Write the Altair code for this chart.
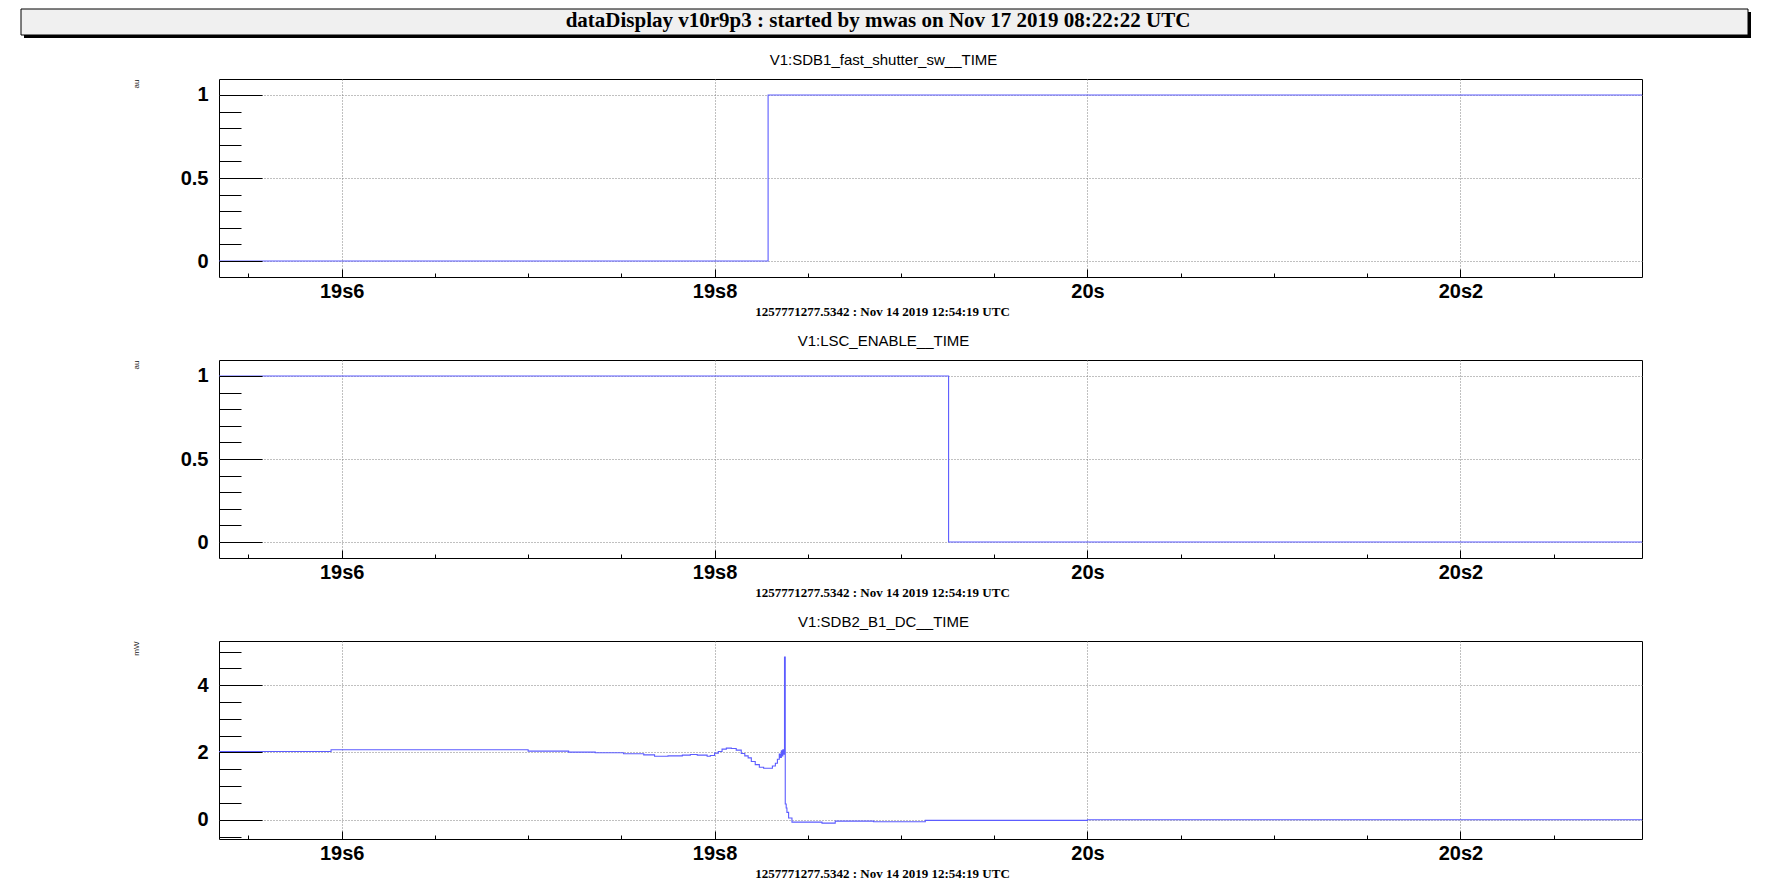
import altair as alt
import pandas as pd

# ---------------- data ----------------
header_text = "dataDisplay v10r9p3 : started by mwas on Nov 17 2019 08:22:22 UTC"
subtitle_text = "1257771277.5342 : Nov 14 2019 12:54:19 UTC"
panel_titles = ["V1:SDB1_fast_shutter_sw__TIME", "V1:LSC_ENABLE__TIME", "V1:SDB2_B1_DC__TIME"]
units = ["au", "au", "mW"]

# panel 1: fast shutter switch
t1 = [19.5342, 19.8287, 20.2974]
v1 = [0, 1, 1]
# panel 2: LSC enable
t2 = [19.5342, 19.9255, 20.2974]
v2 = [1, 0, 0]
# panel 3: SDB2 B1 DC power
t3 = [19.5342, 19.5943, 19.7000, 19.7217, 19.7360, 19.7512, 19.7620, 19.7678,
      19.7750, 19.7827, 19.7870, 19.7907, 19.7960, 19.7977, 19.8000, 19.8020,
      19.8040, 19.8063, 19.8090, 19.8116, 19.8143, 19.8162, 19.8180, 19.8197,
      19.8218, 19.8240, 19.8263, 19.8290, 19.8310, 19.8326, 19.8337, 19.8347,
      19.8352, 19.8358, 19.8362, 19.8366, 19.8371, 19.8375, 19.8379, 19.8384,
      19.8388, 19.8397, 19.8415, 19.8576, 19.8647, 19.8853, 19.9130, 20.0000,
      20.2974]
v3 = [2.03, 2.08, 2.04, 2.01, 1.99, 1.96, 1.93, 1.89,
      1.90, 1.92, 1.94, 1.92, 1.89, 1.91, 1.98, 2.03,
      2.10, 2.13, 2.12, 2.07, 1.97, 1.90, 1.84, 1.73,
      1.64, 1.56, 1.53, 1.53, 1.60, 1.68, 1.80, 1.95,
      1.85, 2.05, 1.90, 2.08, 1.95, 4.84, 0.47, 0.35,
      0.22, 0.05, -0.07, -0.10, -0.04, -0.06, -0.02, 0.00,
      0.00]

x_domain = [19.5342, 20.2974]
x_major = [19.6, 19.8, 20.0, 20.2]
x_major_labels = ["19s6", "19s8", "20s", "20s2"]
x_minor = [19.55, 19.65, 19.70, 19.75, 19.85, 19.90, 19.95, 20.05, 20.10, 20.15, 20.25]

y_domains = [[-0.096, 1.096], [-0.096, 1.096], [-0.573, 5.315]]
y_major = [[0, 0.5, 1], [0, 0.5, 1], [0, 2, 4]]
y_minor = [[0.1, 0.2, 0.3, 0.4, 0.6, 0.7, 0.8, 0.9],
           [0.1, 0.2, 0.3, 0.4, 0.6, 0.7, 0.8, 0.9],
           [-0.5, 0.5, 1.0, 1.5, 2.5, 3.0, 3.5, 4.5, 5.0]]

series = [(t1, v1), (t2, v2), (t3, v3)]

# ---------------- style ----------------
W, H = 1423, 198
BLUE = "#5c5cff"
SANS = "Liberation Sans"
SERIF = "Liberation Serif"
GRID = "#808080"

x_label_expr = " : ".join(
    f"abs(datum.value - {v}) < 1e-6 ? '{l}'" for v, l in zip(x_major, x_major_labels)
) + " : ''"


def panel(i, with_header=False):
    t, v = series[i]
    df = pd.DataFrame({"t": t, "v": v})
    xs = alt.Scale(domain=x_domain, nice=False, zero=False)
    ys = alt.Scale(domain=y_domains[i], nice=False, zero=False)
    base = alt.Chart(df)

    # grid + data line
    line = base.mark_line(color=BLUE, strokeWidth=1.1, interpolate="step-after").encode(
        x=alt.X("t:Q", scale=xs, axis=alt.Axis(
            orient="bottom", grid=True, gridColor=GRID, gridDash=[1, 2], gridWidth=1,
            ticks=False, labels=False, domain=False, title=None, values=x_major, zindex=0)),
        y=alt.Y("v:Q", scale=ys, axis=alt.Axis(
            orient="left", grid=True, gridColor=GRID, gridDash=[1, 2], gridWidth=1,
            ticks=False, labels=False, domain=False, title=None, values=y_major[i], zindex=0)),
    )

    # major ticks, labels, axis titles
    major = base.mark_line(opacity=0).encode(
        x=alt.X("t:Q", scale=xs, axis=alt.Axis(
            orient="bottom", offset=-8, tickSize=8, tickColor="black", tickWidth=1,
            values=x_major, labelExpr=x_label_expr, labelFont=SANS, labelFontSize=20,
            labelFontWeight="bold", labelColor="black", labelPadding=14,
            labelBaseline="middle", labelAlign="center", labelFlush=False, labelOverlap=False,
            domain=False, grid=False,
            title=subtitle_text, titleFont=SERIF, titleFontSize=13, titleFontWeight="bold",
            titleColor="black", titleX=663, titleY=42, titleAlign="center",
            titleBaseline="middle", zindex=1)),
        y=alt.Y("v:Q", scale=ys, axis=alt.Axis(
            orient="left", offset=-43, tickSize=43, tickColor="black", tickWidth=1,
            values=y_major[i], format="~g", labelFont=SANS, labelFontSize=20,
            labelFontWeight="bold", labelColor="black", labelPadding=11,
            labelBaseline="middle", labelAlign="right", labelFlush=False, labelOverlap=False,
            domain=False, grid=False,
            title=units[i], titleFont=SANS, titleFontSize=8, titleFontWeight="normal",
            titleColor="#222222", titleX=-126, titleY=0, titleAngle=270,
            titleAlign="right", titleBaseline="middle", zindex=1)),
    )

    # minor ticks
    minor = base.mark_line(opacity=0).encode(
        x=alt.X("t:Q", scale=xs, axis=alt.Axis(
            orient="bottom", offset=-4, tickSize=4, tickColor="black", tickWidth=1,
            values=x_minor, labels=False, domain=False, grid=False, title=None, zindex=1)),
        y=alt.Y("v:Q", scale=ys, axis=alt.Axis(
            orient="left", offset=-22, tickSize=22, tickColor="black", tickWidth=1,
            values=y_minor[i], labels=False, domain=False, grid=False, title=None, zindex=1)),
    )

    # panel title (top axis title)
    top = base.mark_line(opacity=0).encode(
        x=alt.X("t:Q", scale=xs, axis=alt.Axis(
            orient="top", ticks=False, labels=False, domain=False, grid=False,
            title=panel_titles[i], titleFont=SANS, titleFontSize=15, titleFontWeight="normal",
            titleColor="black", titleX=664, titleY=-20, titleAlign="center",
            titleBaseline="middle")),
        y=alt.Y("v:Q", scale=ys, axis=None),
    )

    layers = [line, major, minor, top]

    if with_header:
        hdr = alt.Data(values=[{"k": 0}])
        shadow = alt.Chart(hdr).mark_rect(color="black").encode(
            x=alt.value(-195), x2=alt.value(1532), y=alt.value(-67), y2=alt.value(-41))
        box = alt.Chart(hdr).mark_rect(fill="#f0f0f0", stroke="black", strokeWidth=1).encode(
            x=alt.value(-198), x2=alt.value(1529), y=alt.value(-70), y2=alt.value(-44))
        htext = alt.Chart(hdr).mark_text(
            font=SERIF, fontSize=21, fontWeight="bold", color="black",
            align="center", baseline="middle").encode(
            x=alt.value(659), y=alt.value(-58), text=alt.value(header_text))
        layers += [shadow, box, htext]

    return alt.layer(*layers).resolve_axis(x="independent", y="independent").properties(
        width=W, height=H)


chart = alt.vconcat(
    panel(0, with_header=True), panel(1), panel(2),
    spacing=83, bounds="flush",
).properties(
    padding={"left": 12, "top": 0, "right": 10, "bottom": 0},
    background="white",
).configure_view(stroke="black", strokeWidth=1)

chart.save("out.html", embed_options={"renderer": "svg", "actions": False})
